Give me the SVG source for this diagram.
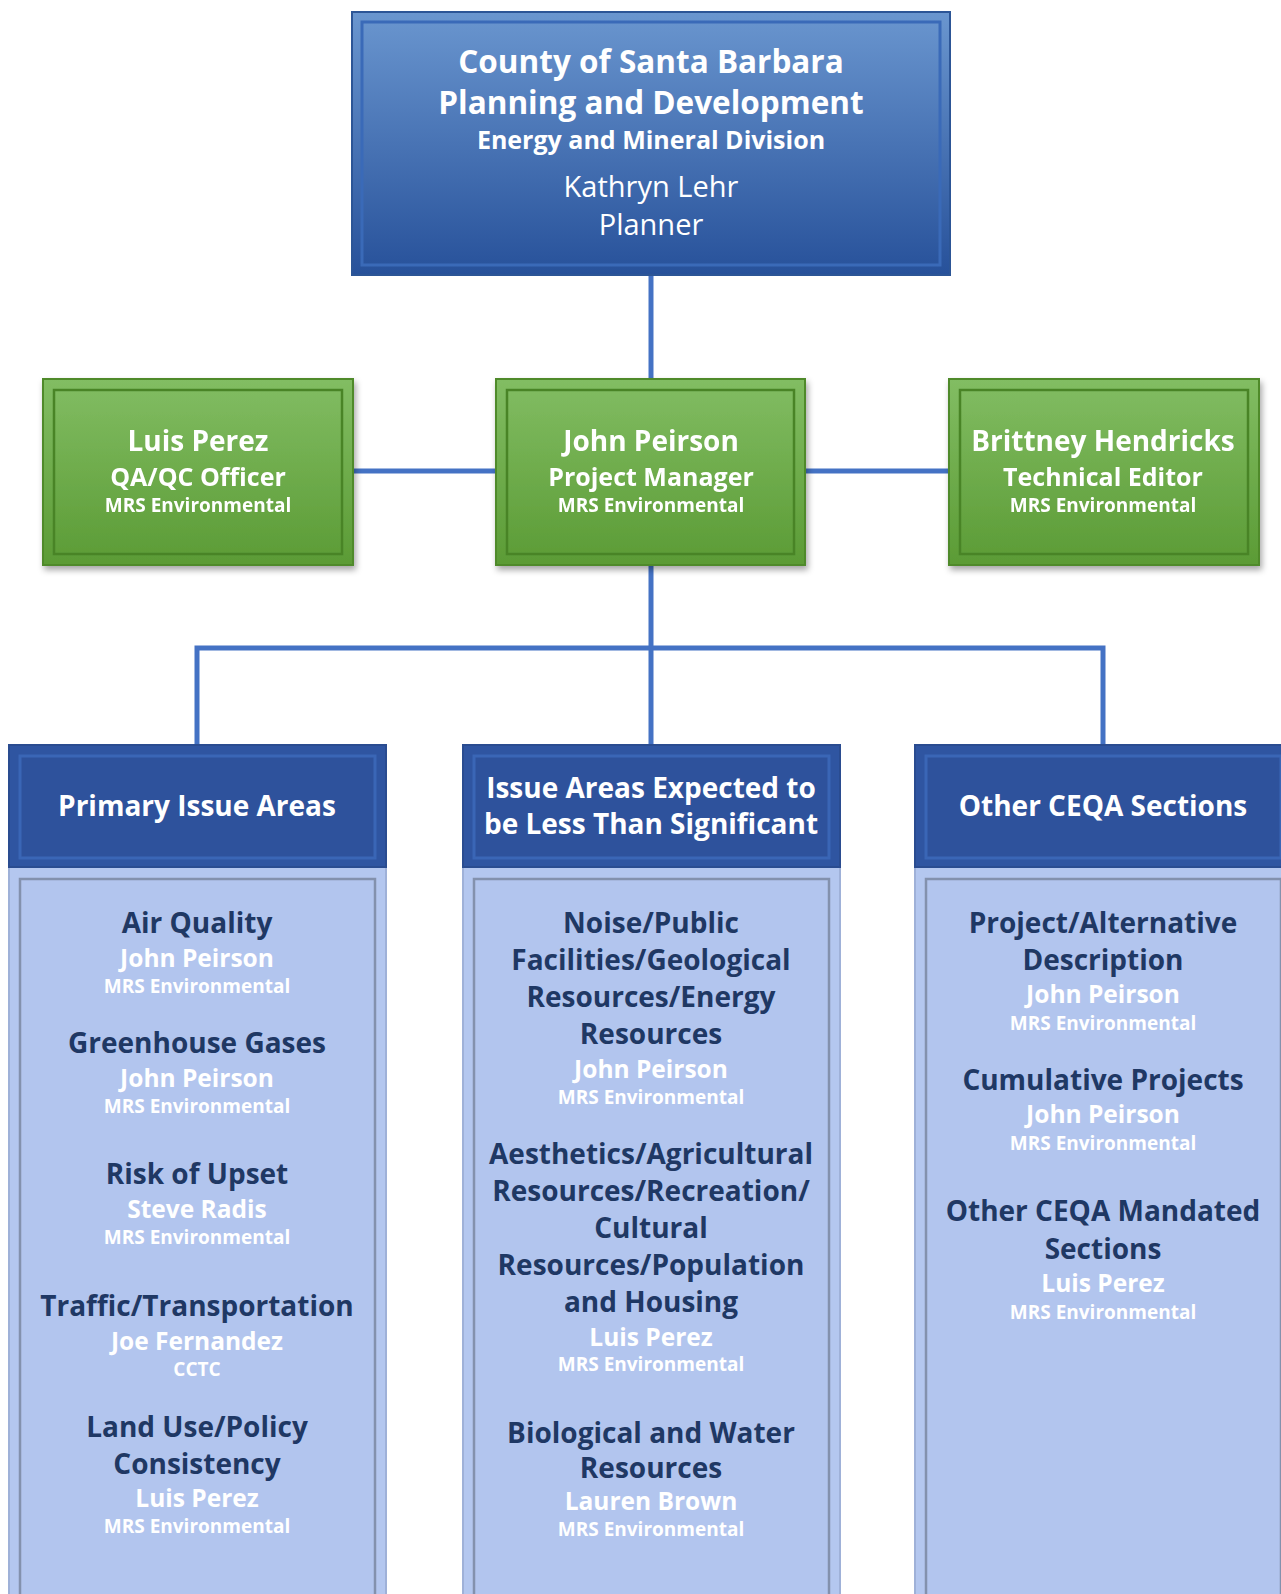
<svg xmlns="http://www.w3.org/2000/svg" width="1281" height="1594" viewBox="0 0 1281 1594">
<defs>
  <linearGradient id="gTop" x1="0" y1="0" x2="0" y2="1">
    <stop offset="0" stop-color="#6a96cf"/>
    <stop offset="1" stop-color="#27519a"/>
  </linearGradient>
  <linearGradient id="gGreen" x1="0" y1="0" x2="0" y2="1">
    <stop offset="0" stop-color="#82bd63"/>
    <stop offset="1" stop-color="#5b9b35"/>
  </linearGradient>
  <filter id="sh" x="-10%" y="-10%" width="125%" height="130%">
    <feDropShadow dx="2" dy="4" stdDeviation="3" flood-color="#000" flood-opacity="0.35"/>
  </filter>
</defs>
<style>
  text { font-family: "Open Sans", "Liberation Sans", sans-serif; text-anchor: middle; font-weight: 700; }
  .w { fill: #ffffff; }
  .d { fill: #1f3864; }
  .conn { stroke: #4472c4; stroke-width: 5; fill: none; }
  .topOuter { fill: url(#gTop); stroke: #2c5596; stroke-width: 2; }
  .topInner { fill: none; stroke: #3a6ab8; stroke-width: 3; }
  .gOuter { fill: url(#gGreen); stroke: #4f8a2c; stroke-width: 2; }
  .gInner { fill: none; stroke: #4a8428; stroke-width: 2.5; }
  .hOuter { fill: #2f55a1; stroke: #2a4c90; stroke-width: 2; }
  .hInner { fill: #2e529c; stroke: #3a66b6; stroke-width: 3; }
  .bOuter { fill: #b4c7ef; stroke: #9fb1d8; stroke-width: 2; }
  .bInner { fill: #b2c5ee; stroke: #8391ad; stroke-width: 2.5; }
  .t29 { font-size: 31.5px; }
  .t23 { font-size: 25px; }
  .t26r { font-size: 29px; font-weight: 400; }
  .gn { font-size: 28px; }
  .gr { font-size: 25px; }
  .co { font-size: 19px; }
  .hd { font-size: 28px; }
  .bh { font-size: 28px; }
  .bn { font-size: 24.5px; }
</style>

<g id="connectors">
  <line class="conn" x1="651" y1="275" x2="651" y2="379"/>
  <line class="conn" x1="353" y1="471" x2="496" y2="471"/>
  <line class="conn" x1="805" y1="471" x2="949" y2="471"/>
  <polyline class="conn" points="651,565 651,745"/>
  <polyline class="conn" points="197,745 197,648 1103,648 1103,745"/>
</g>

<g id="node-county">
  <rect class="topOuter" x="352" y="12" width="598" height="263"/>
  <rect class="topInner" x="362" y="22" width="578" height="243"/>
  <text class="w t29" x="651" y="73">County of Santa Barbara</text>
  <text class="w t29" x="651" y="114">Planning and Development</text>
  <text class="w t23" x="651" y="149">Energy and Mineral Division</text>
  <text class="w t26r" x="651" y="197">Kathryn Lehr</text>
  <text class="w t26r" x="651" y="235">Planner</text>
</g>

<g id="node-luis-qaqc" filter="url(#sh)">
  <rect class="gOuter" x="43" y="379" width="310" height="186"/>
  <rect class="gInner" x="54" y="390" width="288" height="164"/>
  <text class="w gn" x="198" y="451">Luis Perez</text>
  <text class="w gr" x="198" y="486">QA/QC Officer</text>
  <text class="w co" x="198" y="512">MRS Environmental</text>
</g>

<g id="node-john-pm" filter="url(#sh)">
  <rect class="gOuter" x="496" y="379" width="309" height="186"/>
  <rect class="gInner" x="507" y="390" width="287" height="164"/>
  <text class="w gn" x="651" y="451">John Peirson</text>
  <text class="w gr" x="651" y="486">Project Manager</text>
  <text class="w co" x="651" y="512">MRS Environmental</text>
</g>

<g id="node-brittney" filter="url(#sh)">
  <rect class="gOuter" x="949" y="379" width="310" height="186"/>
  <rect class="gInner" x="960" y="390" width="288" height="164"/>
  <text class="w gn" x="1103" y="451">Brittney Hendricks</text>
  <text class="w gr" x="1103" y="486">Technical Editor</text>
  <text class="w co" x="1103" y="512">MRS Environmental</text>
</g>

<g id="node-primary">
  <rect class="bOuter" x="9" y="867" width="377" height="740"/>
  <rect class="bInner" x="20" y="879" width="355" height="740"/>
  <rect class="hOuter" x="9" y="745" width="377" height="122"/>
  <rect class="hInner" x="20" y="756" width="355" height="102"/>
  <text class="w hd" x="197" y="816">Primary Issue Areas</text>

  <text class="d bh" x="197" y="933">Air Quality</text>
  <text class="w bn" x="197" y="967">John Peirson</text>
  <text class="w co" x="197" y="993">MRS Environmental</text>

  <text class="d bh" x="197" y="1053">Greenhouse Gases</text>
  <text class="w bn" x="197" y="1087">John Peirson</text>
  <text class="w co" x="197" y="1113">MRS Environmental</text>

  <text class="d bh" x="197" y="1184">Risk of Upset</text>
  <text class="w bn" x="197" y="1218">Steve Radis</text>
  <text class="w co" x="197" y="1244">MRS Environmental</text>

  <text class="d bh" x="197" y="1316">Traffic/Transportation</text>
  <text class="w bn" x="197" y="1350">Joe Fernandez</text>
  <text class="w co" x="197" y="1376">CCTC</text>

  <text class="d bh" x="197" y="1437">Land Use/Policy</text>
  <text class="d bh" x="197" y="1474">Consistency</text>
  <text class="w bn" x="197" y="1507">Luis Perez</text>
  <text class="w co" x="197" y="1533">MRS Environmental</text>
</g>

<g id="node-less-than-significant">
  <rect class="bOuter" x="463" y="867" width="377" height="740"/>
  <rect class="bInner" x="474" y="879" width="355" height="740"/>
  <rect class="hOuter" x="463" y="745" width="377" height="122"/>
  <rect class="hInner" x="474" y="756" width="355" height="102"/>
  <text class="w hd" x="651" y="798">Issue Areas Expected to</text>
  <text class="w hd" x="651" y="834">be Less Than Significant</text>

  <text class="d bh" x="651" y="933">Noise/Public</text>
  <text class="d bh" x="651" y="970">Facilities/Geological</text>
  <text class="d bh" x="651" y="1007">Resources/Energy</text>
  <text class="d bh" x="651" y="1044">Resources</text>
  <text class="w bn" x="651" y="1078">John Peirson</text>
  <text class="w co" x="651" y="1104">MRS Environmental</text>

  <text class="d bh" x="651" y="1164">Aesthetics/Agricultural</text>
  <text class="d bh" x="651" y="1201">Resources/Recreation/</text>
  <text class="d bh" x="651" y="1238">Cultural</text>
  <text class="d bh" x="651" y="1275">Resources/Population</text>
  <text class="d bh" x="651" y="1312">and Housing</text>
  <text class="w bn" x="651" y="1346">Luis Perez</text>
  <text class="w co" x="651" y="1371">MRS Environmental</text>

  <text class="d bh" x="651" y="1443">Biological and Water</text>
  <text class="d bh" x="651" y="1478">Resources</text>
  <text class="w bn" x="651" y="1510">Lauren Brown</text>
  <text class="w co" x="651" y="1536">MRS Environmental</text>
</g>

<g id="node-other-ceqa">
  <rect class="bOuter" x="915" y="867" width="377" height="740"/>
  <rect class="bInner" x="926" y="879" width="355" height="740"/>
  <rect class="hOuter" x="915" y="745" width="377" height="122"/>
  <rect class="hInner" x="926" y="756" width="355" height="102"/>
  <text class="w hd" x="1103" y="816">Other CEQA Sections</text>

  <text class="d bh" x="1103" y="933">Project/Alternative</text>
  <text class="d bh" x="1103" y="970">Description</text>
  <text class="w bn" x="1103" y="1003">John Peirson</text>
  <text class="w co" x="1103" y="1030">MRS Environmental</text>

  <text class="d bh" x="1103" y="1090">Cumulative Projects</text>
  <text class="w bn" x="1103" y="1123">John Peirson</text>
  <text class="w co" x="1103" y="1150">MRS Environmental</text>

  <text class="d bh" x="1103" y="1221">Other CEQA Mandated</text>
  <text class="d bh" x="1103" y="1259">Sections</text>
  <text class="w bn" x="1103" y="1292">Luis Perez</text>
  <text class="w co" x="1103" y="1319">MRS Environmental</text>
</g>
</svg>
